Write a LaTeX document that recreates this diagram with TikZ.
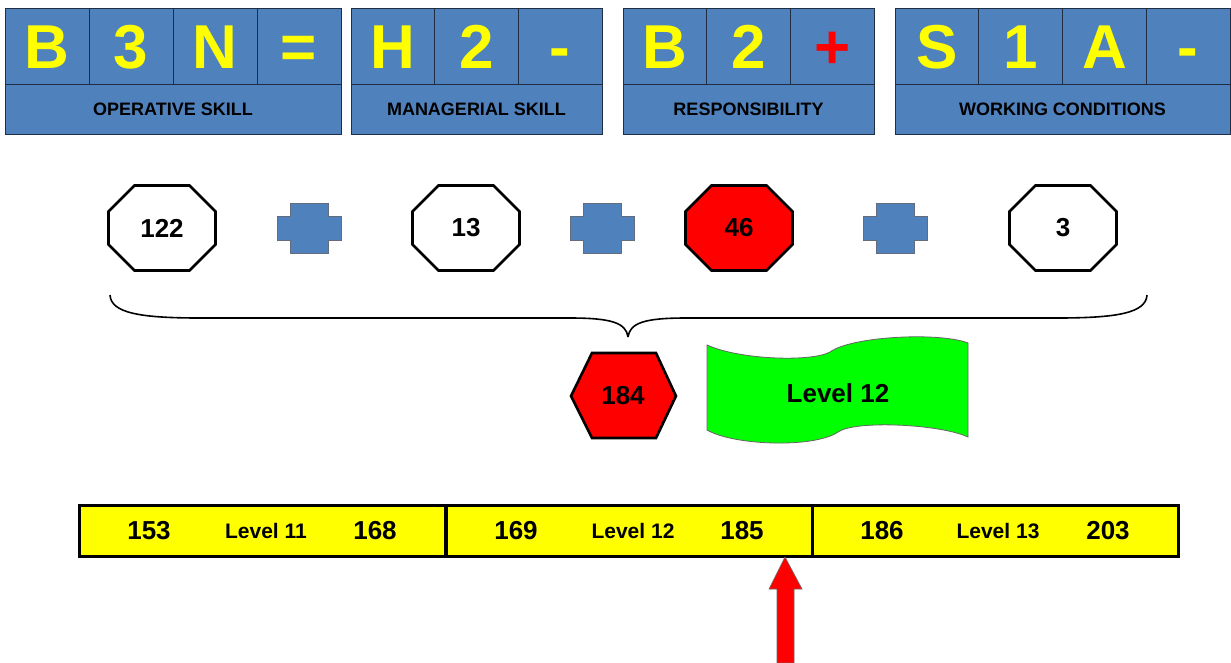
\documentclass[tikz,border=0pt]{standalone}
\usepackage{fontspec}
\setmainfont{Liberation Sans}
\definecolor{ofblue}{HTML}{4F81BD}
\definecolor{ofline}{HTML}{1F2D45}
\definecolor{ylw}{HTML}{FFFF00}
\definecolor{rd}{HTML}{FF0000}
\definecolor{grn}{HTML}{00FF00}
\newcommand\octshape[3]{%
  \filldraw[fill=#3,draw=black,line width=2.6,line join=miter]
   (#1-53.5,#2-16.5) -- (#1-27.5,#2-42.5) -- (#1+27.5,#2-42.5) -- (#1+53.5,#2-16.5)
   -- (#1+53.5,#2+16.5) -- (#1+27.5,#2+42.5) -- (#1-27.5,#2+42.5) -- (#1-53.5,#2+16.5) -- cycle;}
\newcommand\plusshape[2]{%
  \filldraw[fill=ofblue,draw=ofline!70,line width=0.6]
   (#1-32,#2-12) -- (#1-19,#2-12) -- (#1-19,#2-25) -- (#1+19,#2-25) -- (#1+19,#2-12) -- (#1+32,#2-12)
   -- (#1+32,#2+12) -- (#1+19,#2+12) -- (#1+19,#2+25) -- (#1-19,#2+25) -- (#1-19,#2+12) -- (#1-32,#2+12) -- cycle;}
\begin{document}
\begin{tikzpicture}[x=1pt,y=-1pt,
  cell/.style={draw=ofline,line width=0.8,fill=ofblue,inner sep=0,minimum height=76,
     text height=45,text depth=0,font=\fontsize{62}{62}\selectfont\bfseries,text=ylw},
  lab/.style={draw=ofline,line width=0.8,fill=ofblue,inner sep=0,minimum height=50,
     font=\fontsize{18}{18}\selectfont\bfseries,text=black},
  num/.style={inner sep=0,font=\fontsize{26}{26}\selectfont\bfseries},
  barcell/.style={draw=black,line width=3,fill=ylw,inner sep=0,minimum height=51,minimum width=366},
  bnum/.style={inner sep=0,font=\fontsize{26}{26}\selectfont\bfseries},
  blev/.style={inner sep=0,font=\fontsize{21}{21}\selectfont\bfseries}]
\useasboundingbox (0,0) rectangle (1231,662);
\fill[white] (0,0) rectangle (1231,662);
% Box 1
\node[cell,minimum width=84] (a1) at (47,46) {B};
\node[cell,minimum width=84] (a2) at (131,46) {3};
\node[cell,minimum width=84] (a3) at (215,46) {N};
\node[cell,minimum width=84] (a4) at (299,46) {=};
\node[lab,minimum width=336] (la) at (173,109) {OPERATIVE SKILL};
% Box 2
\node[cell,minimum width=83.67] (b1) at (392.8,46) {H};
\node[cell,minimum width=83.67] (b2) at (476.5,46) {2};
\node[cell,minimum width=83.67] (b3) at (560.2,46) {-};
\node[lab,minimum width=251] (lb) at (476.5,109) {MANAGERIAL SKILL};
% Box 3
\node[cell,minimum width=83.67] (c1) at (664.8,46) {B};
\node[cell,minimum width=83.67] (c2) at (748.5,46) {2};
\node[cell,minimum width=83.67,text=rd] (c3) at (832.2,46) {+};
\node[lab,minimum width=251] (lc) at (748.5,109) {RESPONSIBILITY};
% Box 4
\node[cell,minimum width=83.75] (d1) at (936.9,46) {S};
\node[cell,minimum width=83.75] (d2) at (1020.6,46) {1};
\node[cell,minimum width=83.75] (d3) at (1104.4,46) {A};
\node[cell,minimum width=83.75] (d4) at (1188.1,46) {-};
\node[lab,minimum width=335] (ld) at (1062.5,109) {WORKING CONDITIONS};
% octagons and plus signs
\octshape{162}{228}{white}
\node[num] (o1) at (162,228) {122};
\plusshape{309}{228}
\octshape{466}{228}{white}
\node[num] (o2) at (466,228) {13};
\plusshape{602}{228}
\octshape{739}{228}{rd}
\node[num] (o3) at (739,228) {46};
\plusshape{895}{228}
\octshape{1063}{228}{white}
\node[num] (o4) at (1063,228) {3};
% brace
\coordinate (bl) at (110,295);
\coordinate (br) at (1147,295);
\coordinate (bt) at (628,337);
\draw[line width=1.6] (bl) .. controls (111,313) and (140,318) .. (200,318) -- (570,318)
   .. controls (612,318) and (626,323) .. (bt);
\draw[line width=1.6] (br) .. controls (1146,313) and (1117,318) .. (1057,318) -- (686,318)
   .. controls (644,318) and (630,323) .. (bt);
% hexagon
\filldraw[fill=rd,draw=black,line width=2.6,line join=miter]
  (571,396) -- (592,353) -- (656,353) -- (676,396) -- (656,438) -- (592,438) -- cycle;
\node[num] (hx) at (623,396) {184};
% wave banner
\filldraw[fill=grn,draw=black!60,line width=0.8]
  (707,345) .. controls (740,360) and (812,362) .. (830,352)
  .. controls (852,336) and (940,332) .. (968,343) -- (968,437)
  .. controls (940,424) and (855,420) .. (838,432)
  .. controls (815,448) and (735,446) .. (707,430) -- cycle;
\node[inner sep=0,font=\fontsize{26}{26}\selectfont\bfseries] (wv) at (838,393) {Level 12};
% bar
\node[barcell] (l11) at (262.5,531) {};
\node[barcell] (l12) at (629,531) {};
\node[barcell] (l13) at (995,531) {};
\node[bnum] (n153) at (149,531) {153};
\node[blev] (t11) at (266,531) {Level 11};
\node[bnum] (n168) at (375,531) {168};
\node[bnum] (n169) at (516,531) {169};
\node[blev] (t12) at (633,531) {Level 12};
\node[bnum] (n185) at (742,531) {185};
\node[bnum] (n186) at (882,531) {186};
\node[blev] (t13) at (998,531) {Level 13};
\node[bnum] (n203) at (1108,531) {203};
% red arrow
\coordinate (tip) at (785,557);
\filldraw[fill=rd,draw=black!60,line width=0.6]
  (tip) -- (802,589) -- (794,589) -- (794,663) -- (777,663) -- (777,589) -- (769,589) -- cycle;
\end{tikzpicture}
\end{document}
